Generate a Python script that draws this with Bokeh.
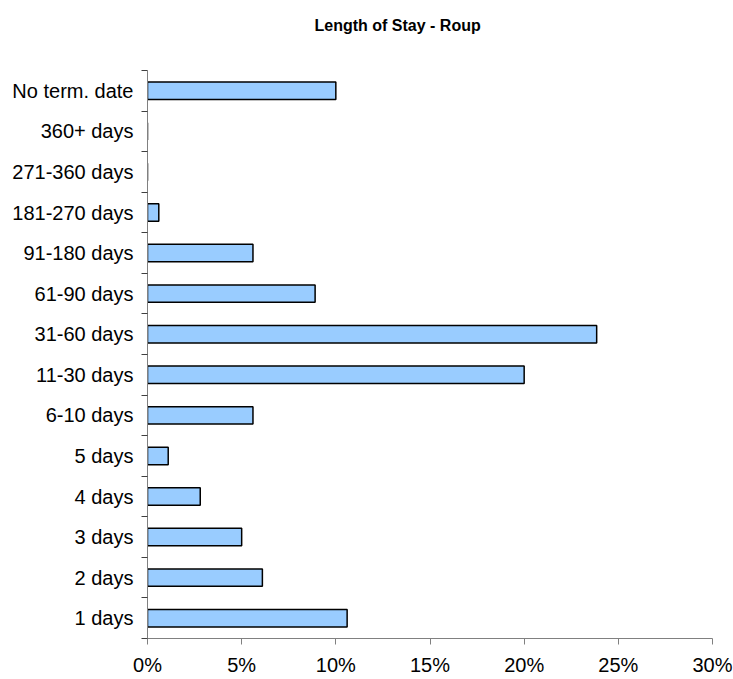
from bokeh.plotting import figure
from bokeh.models import Range1d, FixedTicker, NumeralTickFormatter, ColumnDataSource, Label
from bokeh.embed import file_html
from bokeh.resources import INLINE

title_text = "Length of Stay - Roup"
categories = ["1 days", "2 days", "3 days", "4 days", "5 days", "6-10 days",
              "11-30 days", "31-60 days", "61-90 days", "91-180 days",
              "181-270 days", "271-360 days", "360+ days", "No term. date"]
values = [0.106, 0.061, 0.050, 0.028, 0.011, 0.056,
          0.200, 0.2385, 0.089, 0.056,
          0.006, 0.0, 0.0, 0.100]
x_ticks = [0, 0.05, 0.10, 0.15, 0.20, 0.25, 0.30]

n = len(categories)
pos = [i + 0.5 for i in range(n)]
src = ColumnDataSource(dict(y=pos, v=values, cat=categories))

FW = 565
PLOT_H = 568      # pixel height of the category area
TOP_H = 70        # room above the category area for the title
FH = PLOT_H + TOP_H
p = figure(output_backend="svg", toolbar_location=None,
           frame_width=FW, frame_height=FH,
           min_border_left=147, min_border_right=21,
           min_border_top=0, min_border_bottom=40,
           x_range=Range1d(0, 0.30), y_range=Range1d(0, n * FH / PLOT_H))

p.hbar(y="y", left=0, right="v", height=0.43, source=src,
       fill_color="#99CCFF", line_color="black", line_width=1.5)

title = Label(x=167, y=FH - 25, x_units="screen", y_units="screen",
              text=title_text, text_font="Liberation Sans",
              text_font_size="16px", text_font_style="bold",
              text_color="black", text_align="left",
              text_baseline="alphabetic")
p.add_layout(title)

p.xgrid.visible = False
p.ygrid.visible = False
p.outline_line_color = None
p.background_fill_color = "white"
p.border_fill_color = "white"

xa = p.xaxis[0]
xa.ticker = FixedTicker(ticks=x_ticks, minor_ticks=[])
xa.formatter = NumeralTickFormatter(format="0%")
xa.axis_line_color = "#808080"
xa.major_tick_line_color = "#808080"
xa.major_tick_in = 0
xa.major_tick_out = 6
xa.minor_tick_line_color = None
xa.major_label_text_font = "Liberation Sans"
xa.major_label_text_font_size = "20px"
xa.major_label_text_color = "black"
xa.major_label_standoff = 9

ya = p.yaxis[0]
ya.bounds = (0, n)
ya.ticker = FixedTicker(ticks=pos, minor_ticks=list(range(n + 1)))
ya.major_label_overrides = {pos[i]: categories[i] for i in range(n)}
ya.axis_line_color = "#808080"
ya.major_tick_line_color = None
ya.major_tick_in = 0
ya.major_tick_out = 6
ya.minor_tick_line_color = "#404040"
ya.minor_tick_in = 0
ya.minor_tick_out = 6
ya.major_label_text_font = "Liberation Sans"
ya.major_label_text_font_size = "20px"
ya.major_label_text_color = "black"
ya.major_label_standoff = 8

open("out.html", "w").write(file_html(p, INLINE))
